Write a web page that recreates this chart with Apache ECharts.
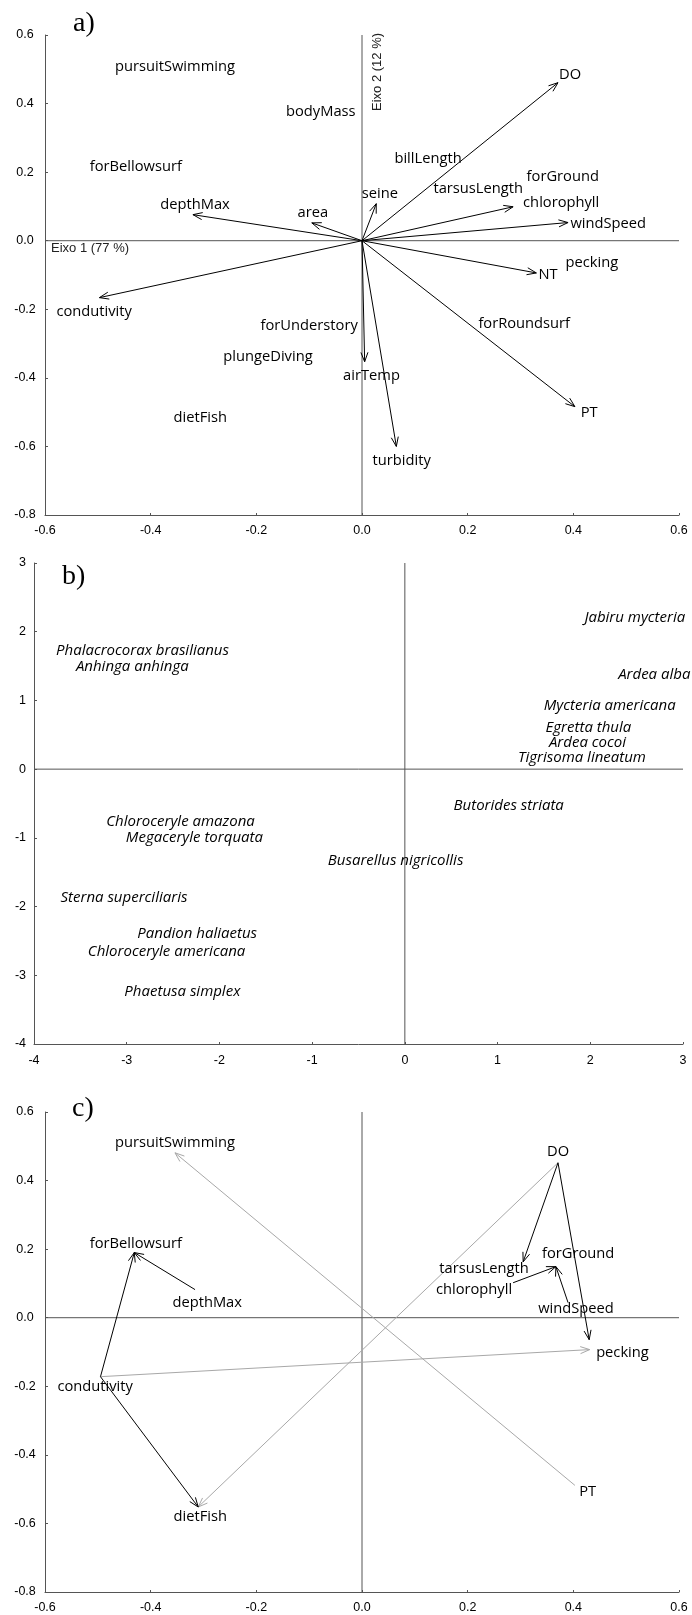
<!DOCTYPE html>
<html><head><meta charset="utf-8">
<script src="https://cdn.jsdelivr.net/npm/echarts@6/dist/echarts.min.js"></script>
<style>html,body{margin:0;padding:0;background:#fff}#c{width:692px;height:1615px}</style>
</head><body><div id="c"></div><script>
// ---------- Panel a: arrows from origin ----------
const aArrowNames = ['depthMax','area','condutivity','seine','DO','chlorophyll','windSpeed','NT','PT','airTemp','turbidity'];
const aArrowX = [-0.320,-0.095,-0.497, 0.027, 0.371, 0.286, 0.390, 0.330, 0.403, 0.005, 0.065];
const aArrowY = [ 0.076, 0.052,-0.166, 0.108, 0.461, 0.099, 0.053,-0.094,-0.484,-0.353,-0.600];
// ---------- Panel a: text labels ----------
const aLabels = ['pursuitSwimming','bodyMass','forBellowsurf','depthMax','area','DO','billLength','seine','tarsusLength','forGround','chlorophyll','windSpeed','pecking','NT','condutivity','forUnderstory','plungeDiving','airTemp','dietFish','turbidity','forRoundsurf','PT'];
const aLabelX = [-0.354,-0.078,-0.428,-0.316,-0.093, 0.394, 0.125, 0.034, 0.220, 0.380, 0.377, 0.466, 0.435, 0.352,-0.507,-0.100,-0.178, 0.018,-0.306, 0.075, 0.307, 0.430];
const aLabelY = [ 0.507, 0.376, 0.216, 0.105, 0.082, 0.484, 0.239, 0.137, 0.152, 0.187, 0.111, 0.050,-0.064,-0.099,-0.207,-0.249,-0.338,-0.393,-0.518,-0.642,-0.241,-0.503];
// ---------- Panel b: species ----------
const bSpecies = ['Phalacrocorax brasilianus','Anhinga anhinga','Jabiru mycteria','Ardea alba','Mycteria americana','Egretta thula','Ardea cocoi','Tigrisoma lineatum','Butorides striata','Chloroceryle amazona','Megaceryle torquata','Busarellus nigricollis','Sterna superciliaris','Pandion haliaetus','Chloroceryle americana','Phaetusa simplex'];
const bX = [-2.83,-2.94, 2.48, 2.69, 2.21, 1.98, 1.97, 1.91, 1.12,-2.42,-2.27,-0.10,-3.03,-2.24,-2.57,-2.40];
const bY = [ 1.73, 1.49, 2.21, 1.37, 0.93, 0.60, 0.39, 0.16,-0.53,-0.76,-1.00,-1.33,-1.87,-2.39,-2.66,-3.24];
// ---------- Panel c: labels ----------
const cLabels = ['pursuitSwimming','forBellowsurf','depthMax','condutivity','dietFish','DO','tarsusLength','forGround','chlorophyll','windSpeed','pecking','PT'];
const cLabelX = [-0.354,-0.428,-0.293,-0.505,-0.306, 0.371, 0.231, 0.409, 0.212, 0.405, 0.493, 0.427];
const cLabelY = [ 0.510, 0.216, 0.044,-0.201,-0.582, 0.484, 0.143, 0.186, 0.082, 0.026,-0.103,-0.509];
// ---------- Panel c: arrows (from -> to) ----------
const cBlackFromX = [0.371, 0.371, 0.286, 0.390,-0.316,-0.495,-0.495];
const cBlackFromY = [0.452, 0.452, 0.102, 0.044, 0.082,-0.172,-0.172];
const cBlackToX   = [0.305, 0.430, 0.367, 0.367,-0.431,-0.431,-0.310];
const cBlackToY   = [0.163,-0.064, 0.149, 0.149, 0.190, 0.190,-0.552];
const cGrayFromX = [0.403, 0.371,-0.495];
const cGrayFromY = [-0.489, 0.452,-0.172];
const cGrayToX   = [-0.354,-0.310, 0.431];
const cGrayToY   = [0.481,-0.552,-0.093];
// ---------- tick labels ----------
const acTicks = ['-0.6','-0.4','-0.2','0.0','0.2','0.4','0.6'];
const acYTicks = ['-0.8','-0.6','-0.4','-0.2','0.0','0.2','0.4','0.6'];
const bXTicks = ['-4','-3','-2','-1','0','1','2','3'];
const bYTicks = ['-4','-3','-2','-1','0','1','2','3'];

const chart = echarts.init(document.getElementById('c'), null, {renderer:'canvas'});
const AX = '#555';
const LBL_FONT = '14.7px "Open Sans"';
const SP_FONT = 'italic 15px "Open Sans"';
const TICK_FONT = '"Liberation Sans", Arial';

function zip4(a,b,c,d){ return a.map((v,i)=>[v,b[i],c[i],d[i]]); }
function zip2(a,b){ return a.map((v,i)=>[v,b[i]]); }

function arrowRender(color){
  return function(params, api){
    const p0 = api.coord([api.value(0), api.value(1)]);
    const p1 = api.coord([api.value(2), api.value(3)]);
    const ang = Math.atan2(p1[1]-p0[1], p1[0]-p0[0]);
    const L = 10, A = 0.36;
    const h1 = [p1[0]-L*Math.cos(ang-A), p1[1]-L*Math.sin(ang-A)];
    const h2 = [p1[0]-L*Math.cos(ang+A), p1[1]-L*Math.sin(ang+A)];
    return {type:'group', children:[
      {type:'line', shape:{x1:p0[0],y1:p0[1],x2:p1[0],y2:p1[1]}, style:{stroke:color, lineWidth:1}},
      {type:'polyline', shape:{points:[h1,p1,h2]}, style:{stroke:color, lineWidth:1, fill:null}}
    ]};
  };
}
function labelRender(names, font){
  return function(params, api){
    const p = api.coord([api.value(0), api.value(1)]);
    return {type:'text', x:p[0], y:p[1], style:{text:names[params.dataIndex], font:font, fill:'#000', align:'center', verticalAlign:'middle'}};
  };
}
function zeroRender(params, api){
  const cs = params.coordSys;
  const o = api.coord([0,0]);
  return {type:'group', children:[
    {type:'line', shape:{x1:o[0],y1:cs.y,x2:o[0],y2:cs.y+cs.height}, style:{stroke:AX, lineWidth:1}},
    {type:'line', shape:{x1:cs.x,y1:o[1],x2:cs.x+cs.width,y2:o[1]}, style:{stroke:AX, lineWidth:1}}
  ]};
}
function xAx(gi, min, max, interval, ticks, margin){
  return {type:'value', gridIndex:gi, min, max, interval,
    axisLine:{show:true, onZero:false, lineStyle:{color:AX, width:1}},
    axisTick:{show:true, inside:true, length:2, lineStyle:{color:AX}},
    splitLine:{show:false},
    axisLabel:{show:true, showMinLabel:true, showMaxLabel:true, color:'#000', fontFamily:TICK_FONT, fontSize:12.5, margin:margin,
      formatter:(v)=>ticks[Math.round((v-min)/interval)]}};
}
function yAx(gi, min, max, interval, ticks, align, margin){
  return {type:'value', gridIndex:gi, min, max, interval,
    axisLine:{show:true, onZero:false, lineStyle:{color:AX, width:1}},
    axisTick:{show:true, inside:true, length:3, lineStyle:{color:AX}},
    splitLine:{show:false},
    axisLabel:{show:true, showMinLabel:true, showMaxLabel:true, color:'#000', fontFamily:TICK_FONT, fontSize:12.5, margin:margin, align:align,
      formatter:(v)=>ticks[Math.round((v-min)/interval)]}};
}

const option = {
  animation:false,
  backgroundColor:'#fff',
  grid:[
    {left:45, top:35, width:634, height:480},
    {left:34, top:563, width:649, height:481},
    {left:45, top:1112, width:634, height:480}
  ],
  xAxis:[ xAx(0,-0.6,0.6,0.2,acTicks,9), xAx(1,-4,3,1,bXTicks,10), xAx(2,-0.6,0.6,0.2,acTicks,9) ],
  yAxis:[ yAx(0,-0.8,0.6,0.2,acYTicks,'center',20), yAx(1,-4,3,1,bYTicks,'right',8), yAx(2,-0.8,0.6,0.2,acYTicks,'center',20) ],
  graphic:[
    {type:'text', x:73, y:24, style:{text:'a)', font:'28px "Liberation Serif", serif', fill:'#000', align:'left', verticalAlign:'middle'}},
    {type:'text', x:62, y:577, style:{text:'b)', font:'28px "Liberation Serif", serif', fill:'#000', align:'left', verticalAlign:'middle'}},
    {type:'text', x:72, y:1109, style:{text:'c)', font:'28px "Liberation Serif", serif', fill:'#000', align:'left', verticalAlign:'middle'}},
    {type:'text', x:51, y:248, style:{text:'Eixo 1 (77 %)', font:'13px "Liberation Sans", Arial', fill:'#222', align:'left', verticalAlign:'middle'}},
    {type:'text', x:377, y:72, rotation:Math.PI/2, style:{text:'Eixo 2 (12 %)', font:'13px "Liberation Sans", Arial', fill:'#222', align:'center', verticalAlign:'middle'}}
  ],
  series:[
    {type:'custom', xAxisIndex:0, yAxisIndex:0, renderItem:zeroRender, data:[[0,0]], silent:true},
    {type:'custom', xAxisIndex:1, yAxisIndex:1, renderItem:zeroRender, data:[[0,0]], silent:true},
    {type:'custom', xAxisIndex:2, yAxisIndex:2, renderItem:zeroRender, data:[[0,0]], silent:true},
    {type:'custom', xAxisIndex:0, yAxisIndex:0, renderItem:arrowRender('#000'),
      data:zip4(aArrowX.map(()=>0), aArrowY.map(()=>0), aArrowX, aArrowY), encode:{x:[0,2], y:[1,3]}, silent:true},
    {type:'custom', xAxisIndex:0, yAxisIndex:0, renderItem:labelRender(aLabels, LBL_FONT), data:zip2(aLabelX, aLabelY), encode:{x:0,y:1}, silent:true},
    {type:'custom', xAxisIndex:1, yAxisIndex:1, renderItem:labelRender(bSpecies, SP_FONT), data:zip2(bX, bY), encode:{x:0,y:1}, silent:true},
    {type:'custom', xAxisIndex:2, yAxisIndex:2, renderItem:arrowRender('#a8a8a8'),
      data:zip4(cGrayFromX, cGrayFromY, cGrayToX, cGrayToY), encode:{x:[0,2], y:[1,3]}, silent:true},
    {type:'custom', xAxisIndex:2, yAxisIndex:2, renderItem:arrowRender('#000'),
      data:zip4(cBlackFromX, cBlackFromY, cBlackToX, cBlackToY), encode:{x:[0,2], y:[1,3]}, silent:true},
    {type:'custom', xAxisIndex:2, yAxisIndex:2, renderItem:labelRender(cLabels, LBL_FONT), data:zip2(cLabelX, cLabelY), encode:{x:0,y:1}, silent:true}
  ]
};
chart.setOption(option);
</script></body></html>
